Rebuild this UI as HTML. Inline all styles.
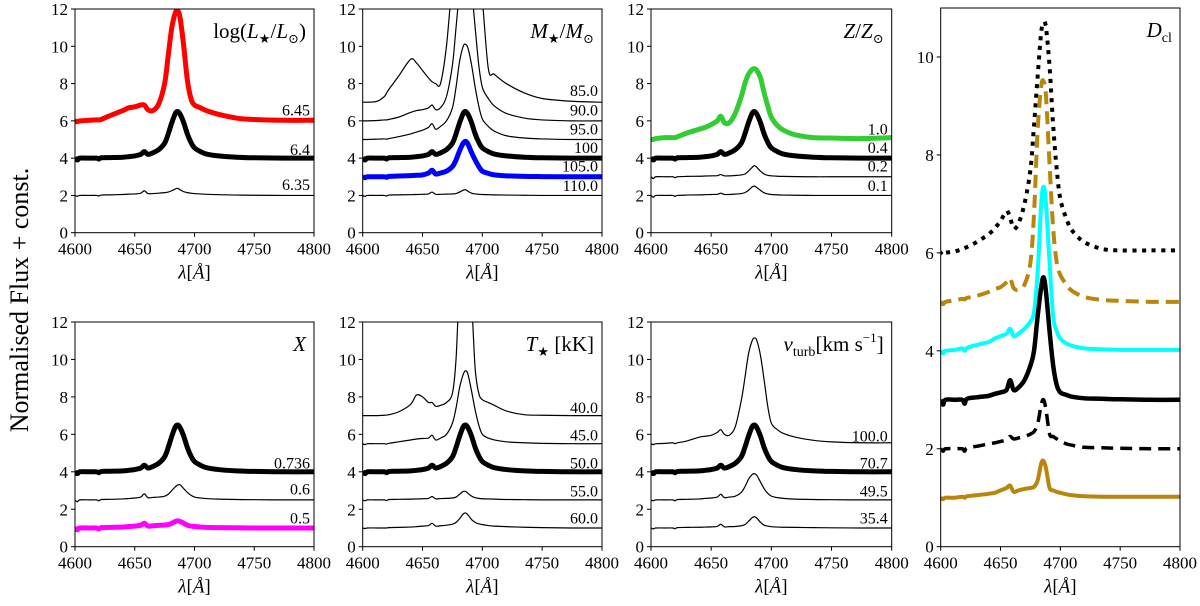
<!DOCTYPE html>
<html><head><meta charset="utf-8"><style>
html,body{margin:0;padding:0;background:#fff;}
svg,svg text{font-family:"Liberation Serif","DejaVu Serif",serif;}
</style></head><body>
<svg id="fig" width="1200" height="601" viewBox="0 0 1200 601" xmlns="http://www.w3.org/2000/svg" font-family="Liberation Serif, serif">
<text font-family="Liberation Serif, serif" transform="translate(28,300) rotate(-90)" text-anchor="middle" font-size="26">Normalised Flux + const.</text>
</svg>
<script>
const wl=[4600,4602,4604,4612,4618,4620,4622,4630,4640,4645,4650,4655,4658,4661,4665,4670,4675,4678,4681,4684,4686,4688,4691,4694,4697,4700,4705,4710,4720,4735,4750,4775,4800];
const xTicks=[4600,4650,4700,4750,4800];
const yTicks12=[0,2,4,6,8,10,12];
const yTicks11=[0,2,4,6,8,10];
const std=[4,3.9,4,4,4,3.95,4.02,4.03,4.05,4.08,4.12,4.2,4.35,4.2,4.28,4.45,4.8,5.3,5.9,6.4,6.5,6.35,5.9,5.3,4.85,4.55,4.35,4.22,4.12,4.05,4.02,4,4];
// panel 1
const lumRed=[6,5.95,6,6.03,6.05,6.05,6.08,6.3,6.55,6.7,6.75,6.85,6.85,6.6,6.55,6.9,8.0,9.5,11.0,11.8,11.9,11.5,10.0,8.2,7.2,6.85,6.7,6.55,6.35,6.15,6.07,6.03,6.03];
const lumThin=[2,1.95,2,2,2,1.97,2.02,2.03,2.05,2.07,2.08,2.12,2.25,2.1,2.1,2.12,2.15,2.18,2.25,2.35,2.38,2.3,2.2,2.15,2.12,2.1,2.08,2.06,2.04,2.02,2.01,2,2];
// panel 2
const m85=[7,7,7,7.05,7.3,7.5,7.7,8.4,9.3,9.1,8.7,8.3,8.1,8.0,8.0,10,13.5,14,14,14,14,14,14,14,14,12.5,8.8,8.5,8.0,7.5,7.2,7.05,7.0];
const m90=[6,6,6,6.02,6.05,6.05,6.08,6.2,6.45,6.55,6.6,6.7,6.85,6.6,6.7,7.3,9,11,13,14,14,14,13,11,9,7.8,7.2,6.8,6.4,6.15,6.05,6,6];
const m95=[5,5,5,5.02,5.03,5.02,5.05,5.15,5.3,5.4,5.5,5.65,5.85,5.55,5.7,6.0,6.7,7.8,9.2,10.0,10.1,9.9,9.0,7.8,6.8,6.1,5.7,5.45,5.2,5.08,5.03,5,5];
const m105=[3,2.95,3,3,3,2.97,3.02,3.04,3.06,3.08,3.1,3.2,3.35,3.15,3.2,3.3,3.55,3.9,4.4,4.8,4.9,4.75,4.3,3.9,3.55,3.3,3.18,3.1,3.05,3.02,3.01,3,3];
const m110=[2,1.95,2,2,2,1.97,2.02,2.03,2.04,2.05,2.06,2.08,2.18,2.06,2.06,2.07,2.08,2.1,2.18,2.28,2.3,2.22,2.12,2.08,2.06,2.05,2.04,2.03,2.02,2.01,2,2,2];
// panel 3
const z10=[5,5,5.05,5.1,5.1,5.1,5.15,5.35,5.55,5.65,5.8,6.0,6.25,5.9,5.9,6.4,7.3,8.0,8.5,8.75,8.8,8.7,8.3,7.5,6.8,6.2,5.75,5.5,5.25,5.1,5.08,5.05,5.1];
const z02=[3,2.9,3,3,3,2.95,3,3.02,3.03,3.04,3.05,3.06,3.12,3.05,3.05,3.07,3.1,3.15,3.3,3.5,3.6,3.5,3.3,3.15,3.08,3.05,3.03,3.02,3.01,3,3,3,3];
const z01=[2,1.9,2,2,2,1.95,2,2.02,2.03,2.04,2.05,2.06,2.12,2.05,2.05,2.07,2.1,2.15,2.27,2.45,2.5,2.42,2.27,2.14,2.08,2.05,2.03,2.02,2.01,2,2,2,2];
// panel 4
const x06=[2.5,2.4,2.5,2.5,2.5,2.45,2.52,2.53,2.55,2.57,2.6,2.65,2.82,2.62,2.63,2.65,2.7,2.8,3.0,3.2,3.3,3.3,3.1,2.9,2.75,2.65,2.6,2.57,2.54,2.52,2.51,2.5,2.5];
const x05=[1,0.9,1,1,1,0.95,1.02,1.03,1.05,1.08,1.1,1.15,1.25,1.1,1.12,1.14,1.16,1.18,1.25,1.35,1.38,1.35,1.25,1.15,1.1,1.08,1.05,1.03,1.02,1.01,1,1,1];
// panel 5
const t40=[7,7,7,7,7.02,7.03,7.05,7.2,7.6,8.1,8.0,7.7,7.7,7.5,7.55,7.7,8.2,10,14,14,14,14,13,9.5,8.2,7.85,7.7,7.55,7.25,7.05,7.02,7,7];
const t45=[5.5,5.45,5.5,5.5,5.5,5.48,5.52,5.6,5.7,5.75,5.78,5.8,5.95,5.7,5.8,6.0,6.6,7.4,8.5,9.2,9.4,9.2,8.3,7.3,6.5,6.0,5.8,5.7,5.6,5.55,5.52,5.5,5.5];
const t55=[2.5,2.45,2.5,2.5,2.5,2.46,2.52,2.53,2.54,2.55,2.56,2.58,2.68,2.56,2.57,2.58,2.6,2.65,2.8,2.95,2.95,2.85,2.7,2.62,2.58,2.56,2.55,2.54,2.52,2.51,2.5,2.5,2.5];
const t60=[1,0.97,1,1,1,1,1.02,1.03,1.05,1.07,1.1,1.13,1.25,1.1,1.12,1.15,1.2,1.3,1.5,1.75,1.8,1.7,1.45,1.3,1.22,1.18,1.13,1.1,1.07,1.04,1.02,1,1];
// panel 6
const v100=[5.5,5.45,5.5,5.52,5.55,5.5,5.55,5.65,5.85,5.9,5.95,6.1,6.25,6.0,5.95,6.4,7.8,9.0,10.3,11.0,11.15,11.0,10.2,8.9,7.5,6.6,6.25,6.05,5.85,5.68,5.6,5.55,5.55];
const v495=[2.5,2.45,2.5,2.5,2.5,2.45,2.52,2.53,2.55,2.58,2.6,2.65,2.8,2.62,2.65,2.7,2.9,3.2,3.6,3.85,3.9,3.8,3.45,3.1,2.85,2.7,2.62,2.58,2.54,2.52,2.51,2.5,2.5];
const v354=[1,0.95,1,1,1,0.96,1.02,1.03,1.04,1.05,1.06,1.08,1.2,1.06,1.07,1.08,1.12,1.18,1.35,1.55,1.6,1.52,1.3,1.15,1.1,1.07,1.05,1.04,1.03,1.02,1.01,1,1];
// panel 7 (Dcl)
const dDot=[6,5.95,6,6.03,6.08,6.1,6.12,6.22,6.38,6.5,6.65,6.85,6.72,6.5,6.6,7.0,7.7,8.6,9.6,10.5,10.7,10.6,9.8,8.6,7.7,7.1,6.7,6.45,6.22,6.08,6.05,6.05,6.05];
const dGoldDash=[5,4.95,5,5.03,5.06,5.05,5.08,5.12,5.2,5.26,5.3,5.4,5.48,5.28,5.25,5.35,5.8,6.8,8.5,9.4,9.5,9.2,7.8,6.5,5.8,5.55,5.35,5.22,5.1,5.04,5.02,5,5];
const dCyan=[4,3.95,4,4.02,4.05,4,4.06,4.12,4.18,4.25,4.3,4.35,4.45,4.3,4.35,4.45,4.6,4.8,5.6,7.0,7.35,7.0,5.8,4.7,4.4,4.25,4.15,4.1,4.05,4.03,4.02,4.02,4.02];
const dBlack=[3,2.9,3,3,3,2.92,3.02,3.05,3.08,3.12,3.15,3.2,3.4,3.2,3.25,3.4,3.7,4.0,4.7,5.3,5.5,5.2,4.4,3.7,3.3,3.15,3.1,3.06,3.03,3.02,3.01,3,3];
const dBlackDash=[2,1.95,2,2,2,1.95,2.02,2.05,2.1,2.12,2.15,2.18,2.25,2.2,2.22,2.25,2.3,2.35,2.5,2.9,3.0,2.8,2.3,2.25,2.2,2.15,2.1,2.07,2.03,2.02,2.01,2,2];
const dGold=[1,0.97,1,1,1.02,1,1.03,1.05,1.08,1.1,1.15,1.2,1.25,1.12,1.15,1.18,1.2,1.22,1.35,1.7,1.75,1.6,1.2,1.15,1.12,1.1,1.07,1.05,1.03,1.02,1.02,1.02,1.02];

const NS="http://www.w3.org/2000/svg";
const svg=document.getElementById('fig');
const FF='Liberation Serif, serif';
function mk(tag,attrs,parent){const e=document.createElementNS(NS,tag);for(const k in attrs)e.setAttribute(k,attrs[k]);(parent||svg).appendChild(e);return e;}

const TH=5,TN=1.2;
const panels=[
 {name:'luminosity',x0:75,x1:314,y0:9,y1:232.7,ymax:12,ticks:yTicks12,title:[['log(',0],['L',1],['★',2],['/',0],['L',1],['⊙',2],[')',0]],
  series:[[lumRed,'#ff0000',TH,''],[std,'#000',TH,''],[lumThin,'#000',TN,'']],labels:[['6.45',6.6],['6.4',4.5],['6.35',2.6]]},
 {name:'mass',x0:362.7,x1:602,y0:9,y1:232.7,ymax:12,ticks:yTicks12,title:[['M',1],['★',2],['/',0],['M',1],['⊙',2]],
  series:[[m85,'#000',TN,''],[m90,'#000',TN,''],[m95,'#000',TN,''],[std,'#000',TH,''],[m105,'#0000ff',TH,''],[m110,'#000',TN,'']],
  labels:[['85.0',7.65],['90.0',6.6],['95.0',5.6],['100',4.6],['105.0',3.6],['110.0',2.55]]},
 {name:'metallicity',x0:651,x1:891.7,y0:9,y1:232.7,ymax:12,ticks:yTicks12,title:[['Z',1],['/',0],['Z',1],['⊙',2]],
  series:[[z10,'#33cc33',TH,''],[std,'#000',TH,''],[z02,'#000',TN,''],[z01,'#000',TN,'']],
  labels:[['1.0',5.6],['0.4',4.6],['0.2',3.6],['0.1',2.55]]},
 {name:'hydrogen',x0:75,x1:314,y0:322,y1:546.7,ymax:12,ticks:yTicks12,title:[['X',1]],
  series:[[std,'#000',TH,''],[x06,'#000',TN,''],[x05,'#ff00ff',TH,'']],labels:[['0.736',4.5],['0.6',3.1],['0.5',1.55]]},
 {name:'temperature',x0:362.7,x1:602,y0:322,y1:546.7,ymax:12,ticks:yTicks12,title:[['T',1],['★',2],[' [kK]',0]],
  series:[[t40,'#000',TN,''],[t45,'#000',TN,''],[std,'#000',TH,''],[t55,'#000',TN,''],[t60,'#000',TN,'']],
  labels:[['40.0',7.45],['45.0',6.0],['50.0',4.5],['55.0',3.0],['60.0',1.55]]},
 {name:'turbulence',x0:651,x1:891.7,y0:322,y1:546.7,ymax:12,ticks:yTicks12,title:[['v',1],['turb',3],['[km s',0],['−1',4],[']',0]],
  series:[[v100,'#000',TN,''],[std,'#000',TH,''],[v495,'#000',TN,''],[v354,'#000',TN,'']],
  labels:[['100.0',5.95],['70.7',4.5],['49.5',3.0],['35.4',1.55]]},
 {name:'clumping',x0:940.7,x1:1180,y0:8,y1:546.7,ymax:11,ticks:yTicks11,title:[['D',1],['cl',3]],
  series:[[dDot,'#000',4,'0.1,9.5'],[dGoldDash,'#b8860b',4,'13,7'],[dCyan,'#00ffff',4,''],[dBlack,'#000',4.5,''],[dBlackDash,'#000',3.5,'12,7'],[dGold,'#b8860b',4,'']],
  labels:[]}
];

function path(pts){let d='M'+pts[0][0].toFixed(2)+','+pts[0][1].toFixed(2);
 for(let i=0;i<pts.length-1;i++){const p0=pts[Math.max(0,i-1)],p1=pts[i],p2=pts[i+1],p3=pts[Math.min(pts.length-1,i+2)];
  const c1=[p1[0]+(p2[0]-p0[0])/6,p1[1]+(p2[1]-p0[1])/6],c2=[p2[0]-(p3[0]-p1[0])/6,p2[1]-(p3[1]-p1[1])/6];
  d+=' C'+c1[0].toFixed(2)+','+c1[1].toFixed(2)+' '+c2[0].toFixed(2)+','+c2[1].toFixed(2)+' '+p2[0].toFixed(2)+','+p2[1].toFixed(2);}
 return d;}

panels.forEach((p,pi)=>{
 const g=mk('g',{'font-family':FF});
 
 
 const xs=v=>p.x0+(v-4600)/200*(p.x1-p.x0);
 const ys=v=>p.y1-v/p.ymax*(p.y1-p.y0);
 const cp=mk('clipPath',{id:'clip'+pi},g);
 mk('rect',{x:p.x0,y:p.y0,width:p.x1-p.x0,height:p.y1-p.y0},cp);
 const sg=mk('g',{'clip-path':'url(#clip'+pi+')'},g);
 p.series.forEach((s,si)=>{
  const pts=wl.map((w,i)=>[xs(w),ys(s[0][i])]);
  const e=mk('path',{d:path(pts),fill:'none',stroke:s[1],'stroke-width':s[2],'stroke-linejoin':'round','stroke-linecap':s[3]&&s[3].startsWith('0.1')?'square':'butt'},sg);
  if(s[3])e.setAttribute('stroke-dasharray',s[3]);
  
  
 });
 const fr=mk('rect',{x:p.x0,y:p.y0,width:p.x1-p.x0,height:p.y1-p.y0,fill:'none',stroke:'#000','stroke-width':1},g);
 
 
 xTicks.forEach(t=>{const x=xs(t);
  mk('line',{x1:x,x2:x,y1:p.y1,y2:p.y1+4,stroke:'#000','stroke-width':1},g);
  const tx=mk('text',{x:x,y:p.y1+22,'text-anchor':'middle','font-size':17,'font-family':FF},g);tx.textContent=t;
  
  });
 p.ticks.forEach(t=>{const y=ys(t);
  mk('line',{x1:p.x0-4,x2:p.x0,y1:y,y2:y,stroke:'#000','stroke-width':1},g);
  const tx=mk('text',{x:p.x0-7,y:y+6,'text-anchor':'end','font-size':17,'font-family':FF},g);tx.textContent=t;
  
  });
 const xl=mk('text',{x:(p.x0+p.x1)/2,y:p.y1+46,'text-anchor':'middle','font-size':19,'font-family':FF},g);
 
 
 [['λ','italic'],['[',''],['Å','italic'],[']','']].forEach(a=>{const t=mk('tspan',{},xl);if(a[1])t.setAttribute('font-style','italic');t.textContent=a[0];});
 const tt=mk('text',{x:p.x1-8,y:p.y0+29,'text-anchor':'end','font-size':21,'font-family':FF},g);
 
 
 p.title.forEach(a=>{const t=mk('tspan',{},tt);
  if(a[1]==1)t.setAttribute('font-style','italic');
  if(a[1]==2){t.setAttribute('font-size','13');t.setAttribute('dy','5');}
  if(a[1]==3){t.setAttribute('font-size','14');t.setAttribute('dy','5');}
  if(a[1]==4){t.setAttribute('font-size','13');t.setAttribute('dy','-9');}
  t.textContent=a[0];
  if(a[1]>=2){const r=mk('tspan',{dy:a[1]==4?'9':'-5','font-size':'1'},tt);r.textContent='\u200a';}
 });
 p.labels.forEach(l=>{const tx=mk('text',{x:p.x1-4,y:ys(l[1])+6,'text-anchor':'end','font-size':16,'font-family':FF},g);tx.textContent=l[0];
  
  });
});
</script>
</body></html>
